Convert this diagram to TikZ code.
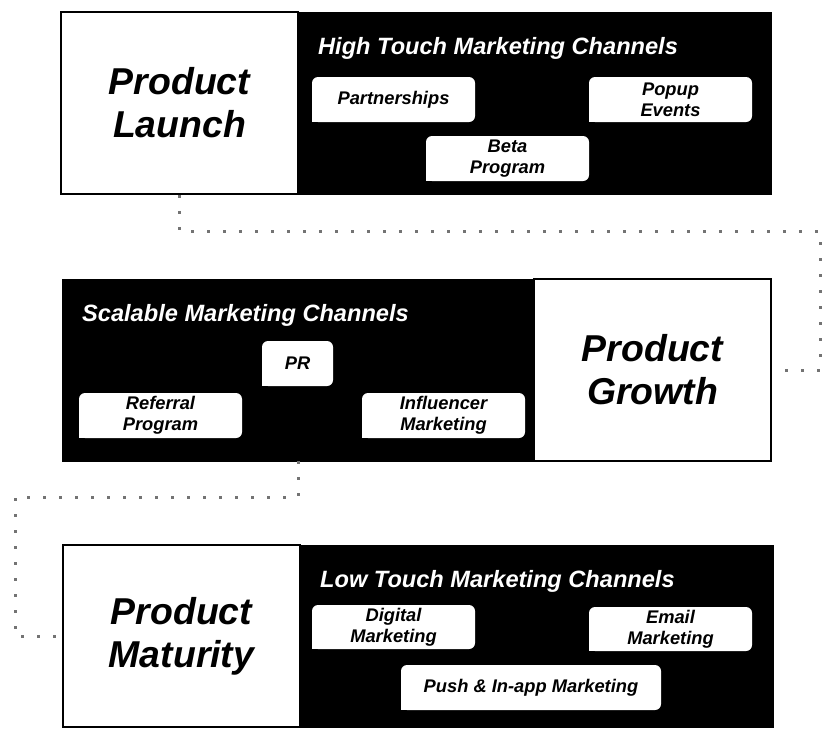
\documentclass[tikz,border=0pt]{standalone}
\usepackage{fontspec}
\setmainfont{Liberation Sans}
\begin{document}
\begin{tikzpicture}[x=1pt,y=-1pt,
  panel/.style={fill=black, draw=black, minimum height=182pt, minimum width=473pt, inner sep=0pt},
  stage/.style={fill=white, draw=black, line width=1.5pt, minimum height=182pt, minimum width=237pt, inner sep=0pt,
    align=center, font=\fontsize{37.4}{43}\selectfont\bfseries\itshape},
  chan/.style={fill=white, rounded corners=6pt, minimum height=45pt, minimum width=163pt, inner sep=0pt,
    align=center, font=\fontsize{18.3}{21}\selectfont\bfseries\itshape},
  ttl/.style={anchor=base west, text=white, inner sep=0pt, font=\fontsize{23.6}{28}\selectfont\bfseries\itshape},
  conn/.style={draw=black!55, line width=3pt, dash pattern=on 3pt off 13pt}
]
\useasboundingbox (0,0) rectangle (834,740);
\newcommand{\sharpbl}[1]{\fill[white] (#1.south west) rectangle ++(8pt,8pt);}

% top
\node[panel] (toppanel) at (534.5,103) {};
\node[stage] (launch) at (179.5,103) {Product\\Launch};
\node[ttl] (t1) at (318,54) {High Touch Marketing Channels};
\node[chan] (partner) at (393.5,99.5) {Partnerships}; \sharpbl{partner}
\node[chan] (popup) at (670.5,99.5) {Popup\\Events}; \sharpbl{popup}
\node[chan] (beta) at (507.5,158.5) {Beta\\Program}; \sharpbl{beta}

% middle
\node[panel, minimum width=472pt] (midpanel) at (298,370) {};
\node[stage] (growth) at (652.5,370) {Product\\Growth};
\node[ttl] (t2) at (82,321) {Scalable Marketing Channels};
\node[chan, minimum width=71pt] (pr) at (297.5,363.5) {PR}; \sharpbl{pr}
\node[chan] (referral) at (160.5,415.5) {Referral\\Program}; \sharpbl{referral}
\node[chan] (influencer) at (443.5,415.5) {Influencer\\Marketing}; \sharpbl{influencer}

% bottom
\node[panel] (botpanel) at (536.5,636) {};
\node[stage] (maturity) at (181.5,636) {Product\\Maturity};
\node[ttl] (t3) at (320,587) {Low Touch Marketing Channels};
\node[chan, minimum height=44pt] (digital) at (393.5,627) {Digital\\Marketing}; \sharpbl{digital}
\node[chan, minimum height=44pt] (email) at (670.5,629) {Email\\Marketing}; \sharpbl{email}
\node[chan, minimum width=260pt] (push) at (531,687.5) {Push \& In-app Marketing}; \sharpbl{push}

% connectors
\coordinate (c1) at (820,231);
\coordinate (c2) at (15,497);
\draw[conn] (launch.south) |- (c1) |- (growth.east);
\draw[conn] (midpanel.south) |- (c2) |- (maturity.west);
\end{tikzpicture}
\end{document}
